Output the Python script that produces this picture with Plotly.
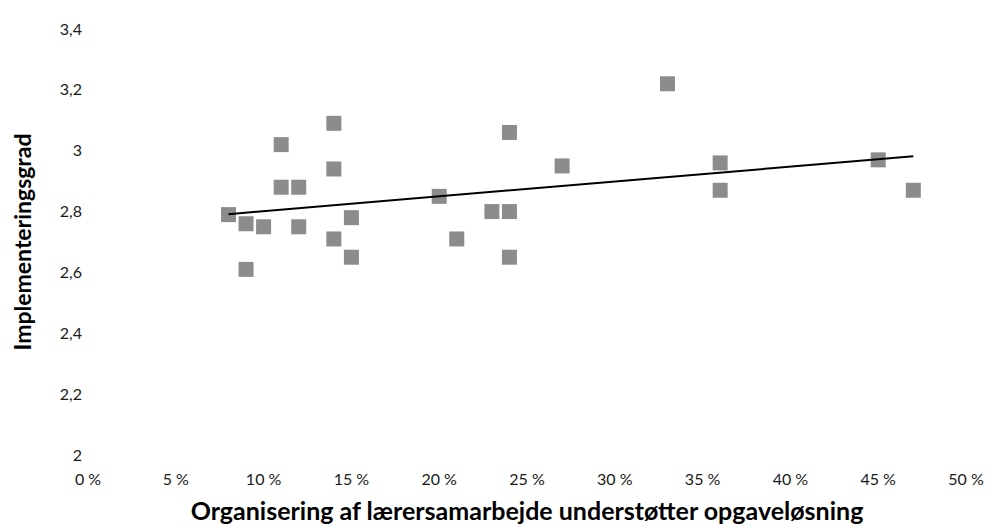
import numpy as np
import plotly.graph_objects as go

x_share = [0.08, 0.09, 0.09, 0.10, 0.11, 0.11, 0.12, 0.12, 0.14, 0.14, 0.14, 0.15, 0.15,
           0.20, 0.21, 0.23, 0.24, 0.24, 0.24, 0.27, 0.33, 0.36, 0.36, 0.45, 0.47]
y_impl = [2.79, 2.76, 2.61, 2.75, 3.02, 2.88, 2.88, 2.75, 3.09, 2.94, 2.71, 2.78, 2.65,
          2.85, 2.71, 2.80, 2.80, 3.06, 2.65, 2.95, 3.22, 2.96, 2.87, 2.97, 2.87]

x_ticks = [0, 0.05, 0.10, 0.15, 0.20, 0.25, 0.30, 0.35, 0.40, 0.45, 0.50]
x_tick_text = ["0 %", "5 %", "10 %", "15 %", "20 %", "25 %", "30 %", "35 %", "40 %", "45 %", "50 %"]
y_ticks = [2, 2.2, 2.4, 2.6, 2.8, 3, 3.2, 3.4]
y_tick_text = ["2", "2,2", "2,4", "2,6", "2,8", "3", "3,2", "3,4"]

slope, intercept = np.polyfit(x_share, y_impl, 1)
trend_x = [min(x_share), max(x_share)]
trend_y = [slope * v + intercept for v in trend_x]

FONT = "Lato, 'Open Sans', sans-serif"

fig = go.Figure()
fig.add_trace(go.Scatter(x=x_share, y=y_impl, mode="markers",
                         marker=dict(symbol="square", size=15, color="#8c8c8c",
                                     line=dict(width=0)),
                         showlegend=False))
fig.add_trace(go.Scatter(x=trend_x, y=trend_y, mode="lines",
                         line=dict(color="black", width=2), showlegend=False))

fig.update_layout(
    width=998, height=528,
    margin=dict(l=80, r=40, t=21, b=81),
    paper_bgcolor="white", plot_bgcolor="white",
    font=dict(family=FONT, size=16, color="#1a1a1a"),
    xaxis=dict(range=[0, 0.5], tickvals=x_ticks, ticktext=x_tick_text,
               showgrid=False, zeroline=False, showline=False, automargin=False,
               ticklabelstandoff=13,
               title=dict(text="<b>Organisering af lærersamarbejde understøtter opgaveløsning</b>",
                          font=dict(size=25, color="black"), standoff=15)),
    yaxis=dict(range=[2, 3.4], tickvals=y_ticks, ticktext=y_tick_text,
               showgrid=False, zeroline=False, showline=False, automargin=False,
               ticklabelstandoff=5,
               title=dict(text="<b>Implementeringsgrad</b>",
                          font=dict(size=23, color="black"), standoff=21)),
)

fig.write_html("out.html")
